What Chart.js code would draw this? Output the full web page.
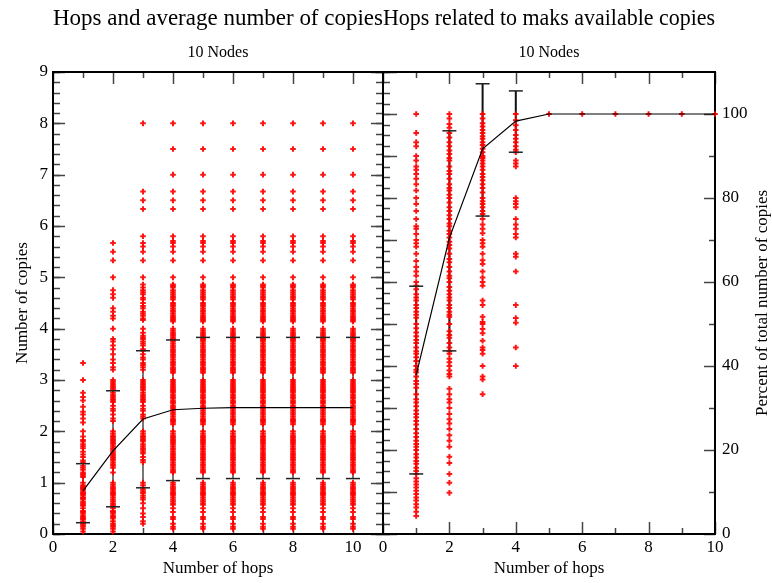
<!DOCTYPE html>
<html lang="en">
  <head>
    <meta charset="UTF-8" />
    <title>Hops and copies</title>
    <script src="https://cdn.jsdelivr.net/npm/chart.js"></script>
    <style>
      body {
        margin: 0;
        background: #fff;
      }
      #wrap {
        position: relative;
        width: 772px;
        height: 583px;
      }
      #wrap canvas {
        position: absolute;
        left: 0;
        top: 0;
      }
    </style>
  </head>
  <body>
    <div id="wrap">
      <canvas id="leftChart" width="772" height="583"></canvas>
      <canvas id="rightChart" width="772" height="583"></canvas>
    </div>

    <script>
      // ---- data ----
      const hops = [1, 2, 3, 4, 5, 6, 7, 8, 9, 10];

      // left panel: average number of copies per hop count
      const avgCopies = [0.84, 1.62, 2.24, 2.42, 2.45, 2.46, 2.46, 2.46, 2.46, 2.46];
      const copiesErrLow = [0.22, 0.53, 0.9, 1.04, 1.08, 1.08, 1.08, 1.08, 1.08, 1.08];
      const copiesErrHigh = [1.37, 2.79, 3.57, 3.78, 3.83, 3.83, 3.83, 3.83, 3.83, 3.83];

      const copiesHop1 = [0.05, 0.1, 0.14, 0.17, 0.2, 0.22, 0.25, 0.29, 0.3, 0.33, 0.36, 0.4,
        0.43, 0.45, 0.5, 0.55, 0.57, 0.6, 0.63, 0.67, 0.7, 0.71, 0.75, 0.78, 0.8, 0.83, 0.86,
        0.88, 0.9, 0.92, 0.95, 1.0, 1.11, 1.14, 1.17, 1.2, 1.25, 1.29, 1.33, 1.4, 1.43, 1.5,
        1.55, 1.6, 1.67, 1.71, 1.75, 1.8, 1.83, 1.9, 2.0, 2.17, 2.25, 2.33, 2.38, 2.48, 2.6,
        2.67, 2.75, 3.0, 3.33];
      const copiesHop2 = [5.67, 5.5, 5.33, 5.0, 4.75, 4.67, 4.6, 4.4, 4.33, 4.25, 4.2, 4.0,
        3.8, 3.75, 3.67, 3.6, 3.5, 3.4, 3.33, 3.25, 3.2, 3.0, 2.96, 2.92, 2.89, 2.86, 2.83,
        2.8, 2.75, 2.71, 2.67, 2.63, 2.6, 2.57, 2.5, 2.44, 2.4, 2.33, 2.25, 2.2, 2.0, 1.96,
        1.92, 1.89, 1.86, 1.83, 1.8, 1.78, 1.75, 1.71, 1.67, 1.64, 1.6, 1.57, 1.54, 1.5, 1.47,
        1.44, 1.4, 1.36, 1.33, 1.29, 1.2, 1.0, 0.96, 0.92, 0.89, 0.86, 0.83, 0.8, 0.78, 0.75,
        0.71, 0.67, 0.64, 0.6, 0.57, 0.54, 0.5, 0.45, 0.43, 0.4, 0.36, 0.33, 0.3, 0.25, 0.2,
        0.17, 0.14, 0.1, 0.05];
      const copiesHop3 = [8.0, 6.67, 6.5, 6.33, 5.8, 5.67, 5.6, 5.5, 5.33, 5.0, 4.86, 4.8,
        4.75, 4.71, 4.67, 4.6, 4.57, 4.5, 4.44, 4.4, 4.33, 4.29, 4.25, 4.2, 4.17, 4.0, 3.92,
        3.86, 3.83, 3.8, 3.75, 3.71, 3.67, 3.6, 3.57, 3.5, 3.44, 3.4, 3.33, 3.29, 3.25, 3.2,
        3.0, 2.96, 2.92, 2.89, 2.86, 2.83, 2.8, 2.75, 2.71, 2.67, 2.63, 2.6, 2.57, 2.5, 2.44,
        2.4, 2.33, 2.29, 2.25, 2.0, 1.96, 1.92, 1.89, 1.86, 1.83, 1.8, 1.75, 1.71, 1.67, 1.64,
        1.6, 1.57, 1.5, 1.44, 1.4, 1.0, 0.95, 0.9, 0.86, 0.83, 0.8, 0.75, 0.71, 0.67, 0.6,
        0.5, 0.4, 0.33, 0.25, 0.2];
      // hops 4..10 show the same spread
      const copiesTail = [8.0, 7.5, 7.0, 6.67, 6.5, 6.33, 5.8, 5.71, 5.67, 5.6, 5.5, 5.33,
        5.0, 4.86, 4.83, 4.8, 4.75, 4.71, 4.67, 4.63, 4.6, 4.57, 4.5, 4.47, 4.44, 4.4, 4.36,
        4.33, 4.29, 4.25, 4.22, 4.2, 4.17, 4.14, 4.0, 3.96, 3.92, 3.89, 3.86, 3.83, 3.8, 3.78,
        3.75, 3.71, 3.67, 3.64, 3.6, 3.57, 3.54, 3.5, 3.47, 3.44, 3.4, 3.36, 3.33, 3.29, 3.25,
        3.22, 3.2, 3.17, 3.14, 3.0, 2.96, 2.92, 2.89, 2.86, 2.83, 2.8, 2.78, 2.75, 2.71, 2.67,
        2.64, 2.6, 2.57, 2.54, 2.5, 2.47, 2.44, 2.4, 2.36, 2.33, 2.29, 2.25, 2.22, 2.2, 2.17,
        2.14, 2.0, 1.96, 1.92, 1.89, 1.86, 1.83, 1.8, 1.78, 1.75, 1.71, 1.67, 1.64, 1.6, 1.57,
        1.54, 1.5, 1.47, 1.44, 1.4, 1.36, 1.33, 1.29, 1.25, 1.22, 1.2, 1.0, 0.96, 0.92, 0.89,
        0.86, 0.83, 0.8, 0.78, 0.75, 0.71, 0.67, 0.64, 0.6, 0.57, 0.5, 0.43, 0.33, 0.29, 0.2,
        0.14, 0.1];
      const copiesByHop = [copiesHop1, copiesHop2, copiesHop3, copiesTail, copiesTail,
        copiesTail, copiesTail, copiesTail, copiesTail, copiesTail];

      // right panel: percent of total number of copies
      const avgPercent = [37.9, 70.5, 91.7, 98.3, 100, 100, 100, 100, 100, 100];
      const percentErrLow = [14.3, 43.6, 75.7, 90.9, null, null, null, null, null, null];
      const percentErrHigh = [59.0, 96.0, 107.2, 105.5, null, null, null, null, null, null];

      const percentHop1 = [100, 95.5, 93.3, 92.3, 90, 88.9, 87.5, 86.7, 85.7, 84.6, 83.3,
        81.8, 80, 78.6, 76.9, 75, 73.3, 72.7, 71.4, 70, 69.2, 68.4, 66.7, 65, 63.6, 62.5,
        61.5, 60, 59.1, 58.3, 57.1, 56.3, 55.6, 54.5, 53.8, 52.9, 52.2, 51.5, 50, 49, 48,
        47.1, 46.2, 45.5, 44.4, 43.5, 42.9, 42.1, 41.2, 40, 39.1, 38.5, 37.5, 36.4, 35.7,
        34.8, 33.3, 32.1, 31.3, 30.4, 29.4, 28.6, 27.8, 26.9, 26.1, 25, 24, 23.1, 22.2, 21.4,
        20.8, 20, 19, 18.2, 17.4, 16.7, 15.8, 15, 14.3, 13.3, 12.5, 11.8, 11.1, 10.3, 9.5,
        8.7, 8, 7.1, 6.3, 5.3, 4.3];
      const percentHop2 = [100, 98.9, 97.6, 96.7, 95.5, 94.4, 93.3, 92.3, 91.3, 90.5, 89.5,
        88.9, 87.5, 86.4, 85.7, 84.6, 83.3, 82.4, 81.8, 80.8, 80, 78.9, 77.8, 76.9, 75.9, 75,
        73.9, 73.3, 72.2, 71.4, 70.6, 69.6, 68.8, 68, 66.7, 65.5, 64.7, 63.6, 62.5, 61.5,
        60.9, 60, 58.8, 57.9, 57.1, 56.3, 55.6, 54.5, 53.8, 52.9, 52.2, 51.7, 50, 48.3, 47.4,
        46.7, 45.5, 44.4, 43.5, 42.9, 41.7, 40.9, 40, 38.9, 38.1, 37.5, 34.6, 33.3, 32.1,
        31.3, 30, 28.6, 27.3, 26.3, 25, 23.5, 22.2, 20.8, 18.4, 16.9, 14.3, 12.2, 9.8];
      const percentHop3 = [100, 98.9, 97.8, 97, 96.2, 95.5, 94.7, 94.1, 93.3, 92.6, 91.7,
        90.9, 90, 89.5, 88.9, 88.2, 87.5, 86.7, 85.7, 85, 84.2, 83.3, 82.4, 81.3, 80, 79.2,
        78.6, 77.8, 76.9, 76.2, 75, 73.7, 72.7, 71.6, 70, 69.2, 68.4, 66.7, 65.2, 64.3, 62.5,
        61.1, 60, 59.1, 55.6, 54.5, 51.7, 50.5, 50, 48.8, 47.8, 46, 44.4, 43.8, 42.9, 40,
        37.5, 36.8, 33.3];
      const percentHop4 = [100, 98.5, 97.3, 96.2, 95, 94.1, 93.3, 92.3, 91.5, 90.9, 88.9,
        88.2, 87.5, 80, 79.2, 78.6, 77.8, 75, 73.7, 72.7, 71.4, 70.6, 66.7, 66, 62.5, 54.5,
        51.4, 50.3, 44.4, 40];
      const percentTail = [100];
      const percentByHop = [percentHop1, percentHop2, percentHop3, percentHop4, percentTail,
        percentTail, percentTail, percentTail, percentTail, percentTail];

      // tick labels
      const hopTicks = [0, 2, 4, 6, 8, 10];
      const copyTicks = [0, 1, 2, 3, 4, 5, 6, 7, 8, 9];
      const percentTicks = [0, 20, 40, 60, 80, 100];

      // ---- helpers ----
      const FONT = "'Liberation Serif', 'DejaVu Serif', serif";
      Chart.defaults.font.family = FONT;
      Chart.defaults.color = "#000";

      function steps(from, to, step) {
        const out = [];
        for (let v = from; v <= to + 1e-9; v += step) out.push(+v.toFixed(4));
        return out;
      }

      function points(byHop) {
        const out = [];
        byHop.forEach((col, i) => col.forEach((y) => out.push({ x: hops[i], y: y })));
        return out;
      }

      function errorLines(low, high) {
        const out = [];
        hops.forEach((x, i) => {
          if (low[i] === null) return;
          out.push({ x: x, y: low[i] }, { x: x, y: high[i] }, { x: x, y: null });
        });
        return out;
      }

      function errorCaps(low, high) {
        const out = [];
        hops.forEach((x, i) => {
          if (low[i] === null) return;
          out.push({ x: x, y: low[i] }, { x: x, y: high[i] });
        });
        return out;
      }

      function series(values) {
        return hops.map((x, i) => ({ x: x, y: values[i] }));
      }

      // inward tick marks, frame and an upward reading side title
      const frameTicks = {
        id: "frameTicks",
        beforeDatasetsDraw(chart, args, opts) {
          const { ctx, chartArea: a } = chart;
          ctx.save();
          ctx.strokeStyle = "#444";
          ctx.lineWidth = 1.5;
          for (const m of opts.marks) {
            const scale = chart.scales[m.scale];
            for (const v of m.values) {
              const p = Math.round(scale.getPixelForValue(v)) + 0.5;
              ctx.beginPath();
              if (m.side === "bottom") {
                ctx.moveTo(p, a.bottom);
                ctx.lineTo(p, a.bottom - m.len);
              } else if (m.side === "top") {
                ctx.moveTo(p, a.top);
                ctx.lineTo(p, a.top + m.len);
              } else if (m.side === "left") {
                ctx.moveTo(a.left, p);
                ctx.lineTo(a.left + m.len, p);
              } else {
                ctx.moveTo(a.right, p);
                ctx.lineTo(a.right - m.len, p);
              }
              ctx.stroke();
            }
          }
          ctx.strokeStyle = "#000";
          ctx.lineWidth = 2;
          ctx.strokeRect(a.left, a.top, a.right - a.left, a.bottom - a.top);
          ctx.restore();
        },
        afterDraw(chart, args, opts) {
          if (!opts.sideTitle) return;
          const { ctx, chartArea: a } = chart;
          ctx.save();
          ctx.font = "17px " + FONT;
          ctx.fillStyle = "#000";
          ctx.textAlign = "center";
          ctx.textBaseline = "middle";
          ctx.translate(opts.sideTitle.x, (a.top + a.bottom) / 2);
          ctx.rotate(-Math.PI / 2);
          ctx.fillText(opts.sideTitle.text, 0, 0);
          ctx.restore();
        },
      };

      const tickFont = { size: 17 };
      const axisTitleFont = { size: 17 };

      function titles(main) {
        return {
          title: {
            display: true,
            text: main,
            fullSize: false,
            font: { size: 23.5, weight: "normal" },
            padding: { top: 5, bottom: 5 },
          },
          subtitle: {
            display: true,
            text: "10 Nodes",
            fullSize: false,
            font: { size: 16 },
            padding: { top: 5, bottom: 9.6 },
          },
          legend: { display: false },
          tooltip: { enabled: false },
        };
      }

      const scatterStyle = {
        showLine: false,
        pointStyle: "cross",
        pointRadius: 2.8,
        pointBorderWidth: 2,
        pointBorderColor: "rgba(255, 0, 0, 0.92)",
        pointBackgroundColor: "rgba(255, 0, 0, 0.92)",
        clip: false,
      };

      function datasets(byHop, avg, low, high, lineColor) {
        return [
          {
            data: errorCaps(low, high),
            showLine: false,
            pointStyle: "line",
            pointRadius: 7,
            pointBorderWidth: 1.5,
            pointBorderColor: "#222",
            clip: false,
          },
          {
            data: series(avg),
            showLine: true,
            borderColor: "#000",
            borderWidth: 1.2,
            pointRadius: 0,
          },
          Object.assign({ data: points(byHop) }, scatterStyle),
          {
            data: errorLines(low, high),
            showLine: true,
            spanGaps: false,
            borderColor: lineColor,
            borderWidth: 2,
            pointRadius: 0,
            clip: false,
          },
        ];
      }

      // ---- left panel ----
      new Chart(document.getElementById("leftChart"), {
        type: "scatter",
        data: {
          datasets: datasets(copiesByHop, avgCopies, copiesErrLow, copiesErrHigh, "#777"),
        },
        plugins: [frameTicks],
        options: {
          responsive: false,
          animation: false,
          events: [],
          layout: { padding: { left: 0, right: 389, top: 0, bottom: 0 } },
          scales: {
            x: {
              type: "linear",
              min: 0,
              max: 11,
              ticks: {
                stepSize: 1,
                autoSkip: false,
                maxRotation: 0,
                font: tickFont,
                padding: 3,
                callback: (v) => (hopTicks.includes(v) ? v : ""),
              },
              grid: { display: false, drawTicks: false },
              border: { display: false },
              title: {
                display: true,
                text: "Number of hops",
                font: axisTitleFont,
                padding: { top: 0, bottom: 4 },
              },
              afterFit: (s) => {
                s.height = 49;
              },
            },
            y: {
              min: 0,
              max: 9,
              ticks: {
                stepSize: 1,
                font: tickFont,
                padding: 5,
                callback: (v) => (copyTicks.includes(v) ? v : ""),
              },
              grid: { display: false, drawTicks: false },
              border: { display: false },
              title: {
                display: true,
                text: "Number of copies",
                font: axisTitleFont,
                padding: { top: 12, bottom: 0 },
              },
              afterFit: (s) => {
                s.width = 53;
              },
            },
          },
          plugins: Object.assign(titles("Hops and average number of copies"), {
            frameTicks: {
              marks: [
                { scale: "x", side: "bottom", values: steps(0, 10, 2), len: 12 },
                { scale: "x", side: "bottom", values: steps(1, 9, 2), len: 6 },
                { scale: "x", side: "top", values: steps(0, 10, 2), len: 12 },
                { scale: "x", side: "top", values: steps(1, 9, 2), len: 6 },
                { scale: "y", side: "left", values: steps(0, 9, 1), len: 12 },
                { scale: "y", side: "left", values: steps(0, 9, 0.2), len: 7 },
                { scale: "y", side: "right", values: steps(0, 9, 1), len: 12 },
                { scale: "y", side: "right", values: steps(0, 9, 0.2), len: 7 },
              ],
            },
          }),
        },
      });

      // ---- right panel ----
      new Chart(document.getElementById("rightChart"), {
        type: "scatter",
        data: {
          datasets: datasets(percentByHop, avgPercent, percentErrLow, percentErrHigh, "#111"),
        },
        plugins: [frameTicks],
        options: {
          responsive: false,
          animation: false,
          events: [],
          layout: { padding: { left: 383, right: 0, top: 0, bottom: 0 } },
          scales: {
            x: {
              type: "linear",
              min: 0,
              max: 10,
              ticks: {
                stepSize: 1,
                autoSkip: false,
                maxRotation: 0,
                font: tickFont,
                padding: 3,
                callback: (v) => (hopTicks.includes(v) ? v : ""),
              },
              grid: { display: false, drawTicks: false },
              border: { display: false },
              title: {
                display: true,
                text: "Number of hops",
                font: axisTitleFont,
                padding: { top: 0, bottom: 4 },
              },
              afterFit: (s) => {
                s.height = 49;
              },
            },
            y: {
              position: "right",
              min: 0,
              max: 110,
              ticks: {
                stepSize: 10,
                font: tickFont,
                padding: 7,
                callback: (v) => (percentTicks.includes(v) ? v : ""),
              },
              grid: { display: false, drawTicks: false },
              border: { display: false },
              afterFit: (s) => {
                s.width = 57;
              },
            },
          },
          plugins: Object.assign(titles("Hops related to maks available copies"), {
            frameTicks: {
              sideTitle: { text: "Percent of total number of copies", x: 763 },
              marks: [
                { scale: "x", side: "bottom", values: steps(0, 10, 2), len: 12 },
                { scale: "x", side: "bottom", values: steps(1, 9, 2), len: 6 },
                { scale: "x", side: "top", values: steps(0, 10, 2), len: 12 },
                { scale: "x", side: "top", values: steps(1, 9, 2), len: 6 },
                { scale: "y", side: "right", values: steps(0, 100, 20), len: 11 },
                { scale: "y", side: "right", values: steps(10, 90, 20), len: 6 },
                { scale: "y", side: "left", values: steps(0, 110, 10), len: 14 },
                { scale: "y", side: "left", values: steps(0, 110, 2.5), len: 7 },
              ],
            },
          }),
        },
      });
    </script>
  </body>
</html>
